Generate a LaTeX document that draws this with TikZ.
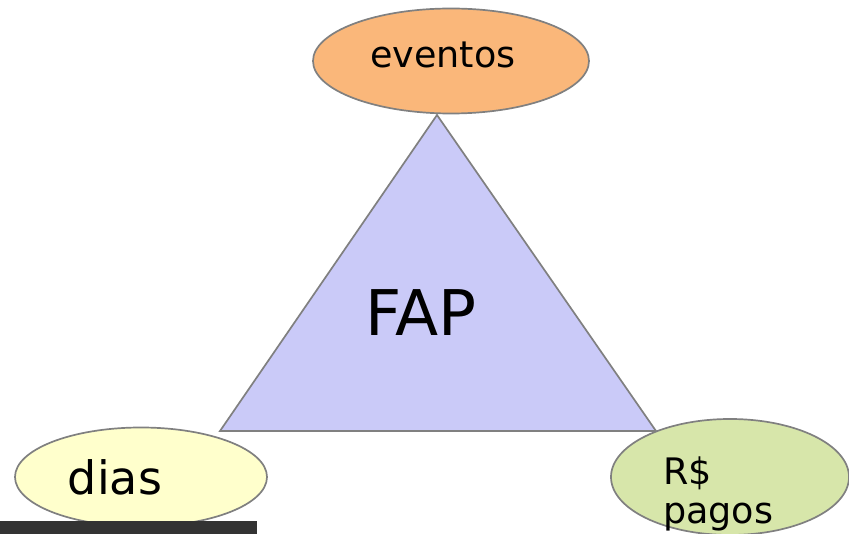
\documentclass[tikz,border=0pt]{standalone}
\usepackage{fontspec}
\setmainfont{DejaVu Sans}
\usetikzlibrary{shapes.geometric}
\definecolor{outl}{HTML}{808080}
\definecolor{orangefill}{HTML}{FAB77A}
\definecolor{trifill}{HTML}{CACAF8}
\definecolor{yellowfill}{HTML}{FFFFCC}
\definecolor{greenfill}{HTML}{D7E6AA}
\definecolor{barcol}{HTML}{333333}
\tikzset{
  bubble/.style={ellipse, draw=outl, line width=1.7pt, inner sep=0pt},
  lbl/.style={anchor=base, inner sep=0pt, text=black},
}
\begin{document}
\begin{tikzpicture}[x=1pt,y=-1pt]
\useasboundingbox (0,0) rectangle (849,534);
% triangle
\coordinate (apex) at (437,115);
\coordinate (bl) at (220,431);
\coordinate (br) at (656,431);
\filldraw[fill=trifill, draw=outl, line width=1.7pt, line join=miter] (apex) -- (br) -- (bl) -- cycle;
\node[lbl, font=\fontsize{63}{70}\selectfont] (fap) at (421,336) {FAP};
% ellipses
\node[bubble, fill=orangefill, minimum width=276pt, minimum height=105pt] (ev) at (451,61) {};
\node[lbl, font=\fontsize{36.5}{38}\selectfont] (evt) at (443,68) {eventos};
\node[bubble, fill=yellowfill, minimum width=252pt, minimum height=99pt] (di) at (141,477) {};
\node[lbl, font=\fontsize{46}{50}\selectfont] (dit) at (115,494) {dias};
\node[bubble, fill=greenfill, minimum width=238pt, minimum height=116pt] (rp) at (730,477) {};
\node[anchor=base west, inner sep=0pt, font=\fontsize{36.5}{38}\selectfont] (rpt1) at (663,485) {R\$};
\node[anchor=base west, inner sep=0pt, font=\fontsize{36.5}{38}\selectfont] (rpt2) at (663,523) {pagos};
% bar
\fill[barcol] (0,521) rectangle (257,534);
\end{tikzpicture}
\end{document}
